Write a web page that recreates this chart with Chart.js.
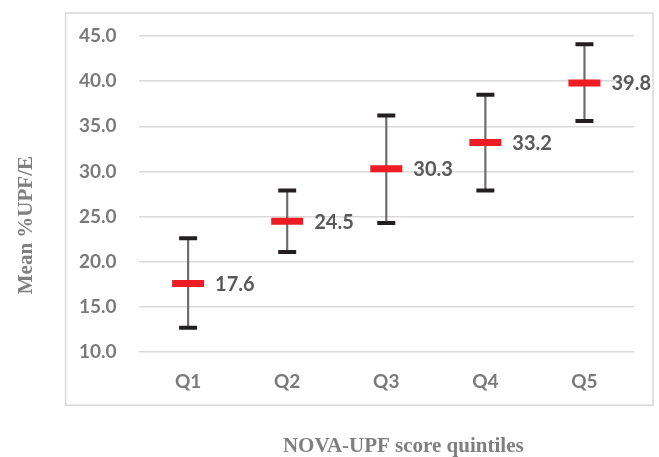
<!DOCTYPE html>
<html>
<head>
<meta charset="utf-8">
<script src="https://cdn.jsdelivr.net/npm/chart.js@4/dist/chart.umd.min.js"></script>
<style>
  html, body { margin: 0; padding: 0; background: #fff; }
  #wrap { width: 659px; height: 457px; }
</style>
</head>
<body>
<div id="wrap"><canvas id="myChart" width="659" height="457"></canvas></div>
<script>
var quintiles = ['Q1', 'Q2', 'Q3', 'Q4', 'Q5'];
var means = [17.6, 24.5, 30.3, 33.2, 39.8];
var lower = [12.7, 21.1, 24.3, 27.9, 35.6];
var upper = [22.6, 27.9, 36.2, 38.5, 44.1];
var yTicks = [10, 15, 20, 25, 30, 35, 40, 45];

var whiskers = [];
for (var i = 0; i < quintiles.length; i++) {
  whiskers.push([lower[i], upper[i]]);
}

var tickFont = { family: 'Lato', size: 19, weight: 'bold' };
var serifTitle = 'bold 21px "Liberation Serif", "Times New Roman", serif';

// frame, axis titles and mean labels
var extras = {
  id: 'extras',
  beforeDraw: function(chart) {
    var a = chart.chartArea, ctx = chart.ctx;
    ctx.save();
    ctx.strokeStyle = '#d9d9d9';
    ctx.lineWidth = 1.5;
    ctx.strokeRect(a.left - 73, a.top - 23, (a.right + 19) - (a.left - 73), (a.bottom + 53) - (a.top - 23));
    ctx.restore();
  },
  afterDatasetsDraw: function(chart) {
    var a = chart.chartArea, ctx = chart.ctx;
    var meta = chart.getDatasetMeta(3);
    ctx.save();
    ctx.font = 'bold 20px Lato';
    ctx.fillStyle = '#595959';
    ctx.textAlign = 'left';
    ctx.textBaseline = 'middle';
    meta.data.forEach(function(pt, i) {
      ctx.fillText(means[i].toFixed(1), pt.x + 27, pt.y + 1);
    });

    ctx.font = serifTitle;
    ctx.fillStyle = '#7f7f7f';
    ctx.textAlign = 'center';
    ctx.fillText('NOVA-UPF score quintiles', (a.left + a.right) / 2 + 17, a.bottom + 94);
    ctx.translate(a.left - 112, (a.top + a.bottom) / 2 + 31);
    ctx.rotate(-Math.PI / 2);
    ctx.fillText('Mean %UPF/E', 0, 0);
    ctx.restore();
  }
};

var ctx = document.getElementById('myChart').getContext('2d');

var data = {
  labels: quintiles,
  datasets: [
    {
      type: 'bar',
      data: whiskers,
      backgroundColor: '#6b6b6b',
      barThickness: 1.5,
      order: 4
    },
    {
      type: 'line',
      data: lower,
      showLine: false,
      pointStyle: 'line',
      pointRadius: 9,
      pointBorderWidth: 4,
      pointBorderColor: '#231f20',
      order: 3
    },
    {
      type: 'line',
      data: upper,
      showLine: false,
      pointStyle: 'line',
      pointRadius: 9,
      pointBorderWidth: 4,
      pointBorderColor: '#231f20',
      order: 2
    },
    {
      type: 'line',
      data: means,
      showLine: false,
      pointStyle: 'line',
      pointRadius: 16,
      pointBorderWidth: 7,
      pointBorderColor: '#ed1c24',
      order: 1
    }
  ]
};

var options = {
  responsive: false,
  animation: false,
  events: [],
  layout: { padding: { left: 57, top: 36, right: 25, bottom: 46 } },
  plugins: {
    legend: { display: false },
    tooltip: { enabled: false }
  },
  scales: {
    x: {
      offset: true,
      grid: { display: false, drawTicks: false },
      border: { display: false },
      ticks: { font: tickFont, color: '#7a7a7a', padding: 18 }
    },
    y: {
      min: 10,
      max: 45,
      afterBuildTicks: function(scale) {
        scale.ticks = yTicks.map(function(v) { return { value: v }; });
      },
      grid: { color: '#d9d9d9', lineWidth: 1.5, drawTicks: false },
      border: { display: false },
      ticks: {
        font: tickFont,
        color: '#7a7a7a',
        padding: 22,
        callback: function(v) { return Number(v).toFixed(1); }
      }
    }
  }
};

var myChart = new Chart(ctx, {
  type: 'bar',
  data: data,
  options: options,
  plugins: [extras]
});
</script>
</body>
</html>
